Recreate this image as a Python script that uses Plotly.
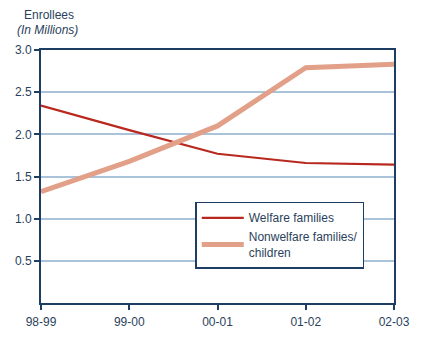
import plotly.graph_objects as go

years = ["98-99", "99-00", "00-01", "01-02", "02-03"]
welfare = [2.34, 2.05, 1.77, 1.66, 1.64]
nonwelfare = [1.32, 1.68, 2.10, 2.79, 2.83]
ytick_vals = [0.5, 1.0, 1.5, 2.0, 2.5, 3.0]
ytick_text = ["0.5", "1.0", "1.5", "2.0", "2.5", "3.0"]

NAVY = "#1d3d63"
TEXT = "#2b3f5c"
GRID = "#a9c3da"
RED = "#b8281e"
PINK = "#e2a088"

fig = go.Figure()
fig.add_trace(go.Scatter(x=years, y=welfare, mode="lines", name="Welfare families",
                         line=dict(color=RED, width=2.2)))
fig.add_trace(go.Scatter(x=years, y=nonwelfare, mode="lines",
                         name="Nonwelfare families/<br>children",
                         line=dict(color=PINK, width=5)))

fig.update_layout(
    width=422, height=343,
    margin=dict(l=41, r=26, t=50, b=40),
    paper_bgcolor="white", plot_bgcolor="white",
    font=dict(family="Liberation Sans, Arial, sans-serif", size=12, color=TEXT),
    showlegend=True,
    legend=dict(x=0.437, y=0.40, xanchor="left", yanchor="top",
                bgcolor="white", bordercolor=NAVY, borderwidth=1.5,
                itemwidth=42,
                font=dict(size=12, color=TEXT), tracegroupgap=4),
    xaxis=dict(range=[0, 4], type="category", showgrid=False,
               showline=True, linecolor=NAVY, linewidth=2, mirror=True,
               ticks="outside", ticklen=5, tickcolor=NAVY, tickwidth=1.5,
               ticklabelstandoff=2,
               zeroline=False, fixedrange=True),
    yaxis=dict(range=[0, 3], tickvals=ytick_vals, ticktext=ytick_text,
               showgrid=True, gridcolor=GRID, gridwidth=1.5,
               showline=True, linecolor=NAVY, linewidth=2, mirror=True,
               ticks="outside", ticklen=5, tickcolor=NAVY, tickwidth=1.5,
               zeroline=False, fixedrange=True),
    annotations=[
        dict(text="Enrollees", xref="paper", yref="paper", x=-0.055, y=1.14,
             xanchor="left", yanchor="middle", showarrow=False,
             font=dict(size=12, color=TEXT)),
        dict(text="<i>(In Millions)</i>", xref="paper", yref="paper", x=-0.075, y=1.08,
             xanchor="left", yanchor="middle", showarrow=False,
             font=dict(size=12, color=TEXT)),
    ],
)

fig.write_html("out.html")
